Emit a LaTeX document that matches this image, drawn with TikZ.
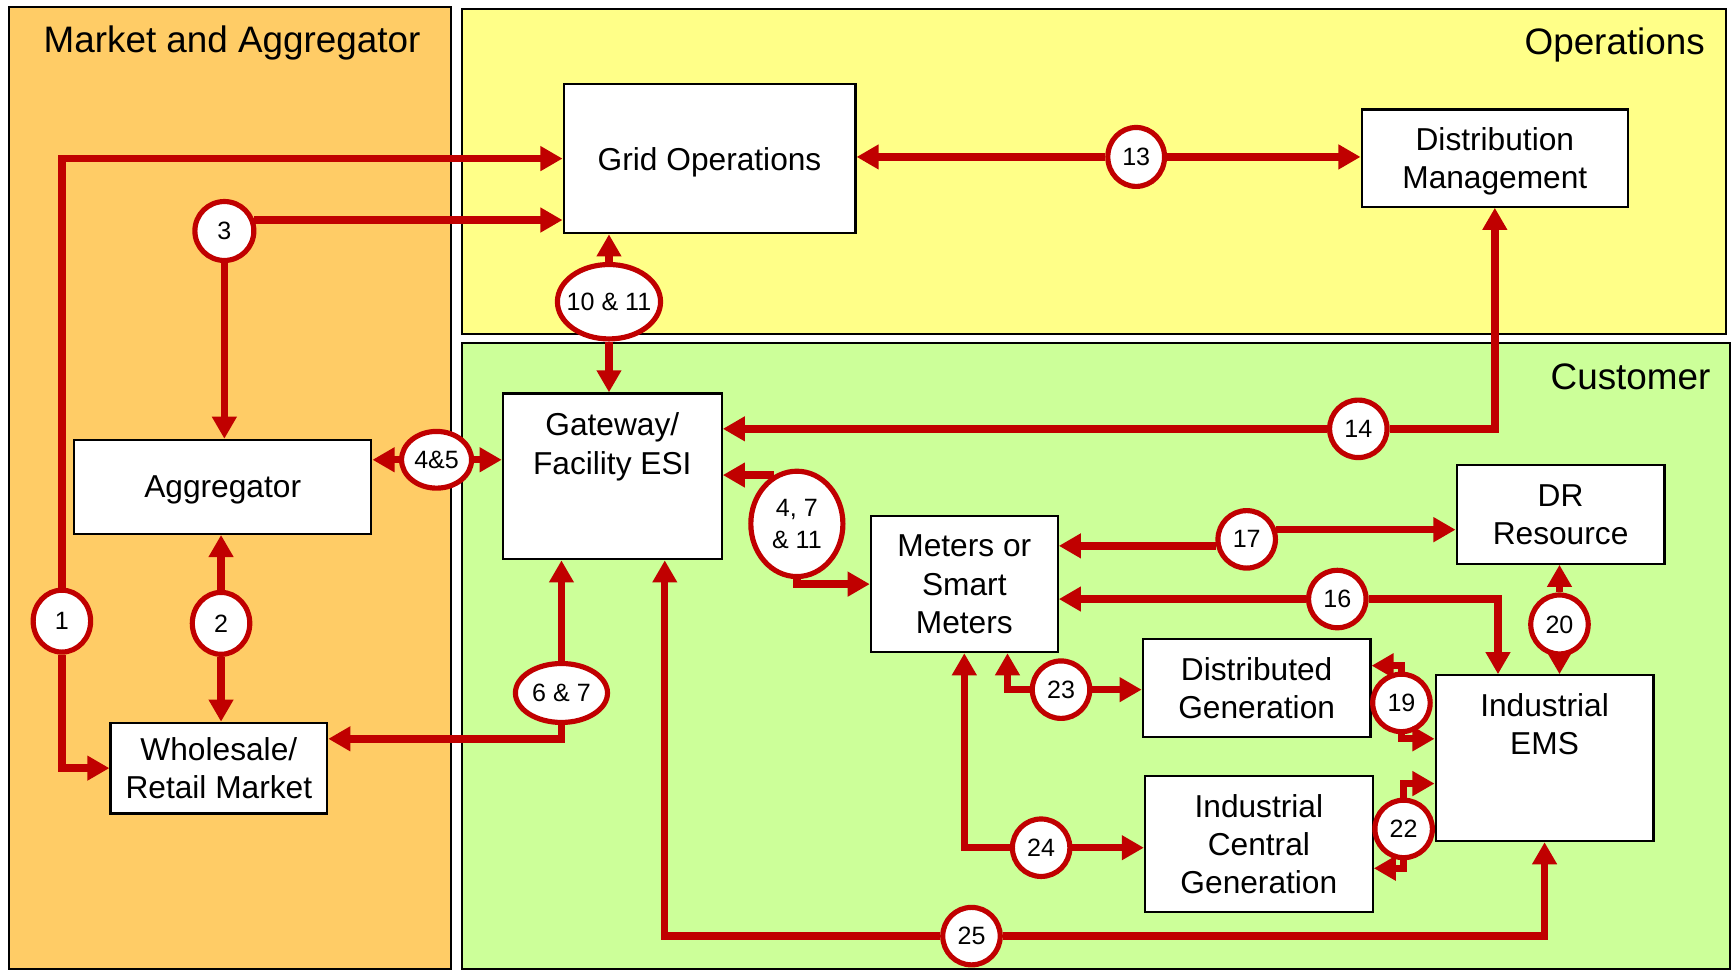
\documentclass[tikz,border=0pt]{standalone}
\usepackage{fontspec}
\setmainfont{Liberation Sans}
\usetikzlibrary{arrows.meta,shapes.geometric}

\definecolor{linkred}{RGB}{192,0,0}
\definecolor{mktorange}{RGB}{255,204,102}
\definecolor{opsyellow}{RGB}{255,255,136}
\definecolor{custgreen}{RGB}{204,255,153}

\tikzset{every picture/.style={line width=0.75pt}}
\tikzset{
  panel/.style={draw=black, line width=1.5pt},
  box/.style={draw=black, fill=white, line width=1.5pt, align=center, inner sep=0pt, text depth=0pt, font=\fontsize{21.5}{26}\selectfont},
  tag/.style={ellipse, draw=linkred, fill=white, line width=3.5pt, inner sep=0pt, align=center, minimum width=39pt, minimum height=39pt, font=\fontsize{17}{21.75}\selectfont},
  link/.style={draw=linkred, line width=5pt, -{Triangle[length=15pt,width=16pt]}},
  paneltitle/.style={inner sep=0pt, font=\fontsize{25}{30}\selectfont}
}

\begin{document}
\begin{tikzpicture}[x=0.75pt,y=0.75pt,yscale=-1,xscale=1]
    \useasboundingbox (0,0) rectangle (1568,878);

    %Shape: Rectangle [market and aggregator]
    \draw [panel, fill=mktorange] (8,6) rectangle (408,877);
    %Shape: Rectangle [operations]
    \draw [panel, fill=opsyellow] (418,8) rectangle (1562,302);
    %Shape: Rectangle [customer]
    \draw [panel, fill=custgreen] (418,310) rectangle (1565,877);

    % Text Node
    \draw (210,39) node [paneltitle] (mkttitle) {Market and Aggregator};
    % Text Node
    \draw (1543,41) node [paneltitle, anchor=east] (opstitle) {Operations};
    % Text Node
    \draw (1548,341) node [paneltitle, anchor=east] (custtitle) {Customer};

    %Shape: Rectangle
    \draw (642,143.5) node [box, minimum width=198pt, minimum height=101.25pt] (gridops) {Grid Operations};
    %Shape: Rectangle
    \draw (1352.5,143) node [box, minimum width=180.75pt, minimum height=66pt] (distmgmt) {Distribution\\Management};
    %Shape: Rectangle
    \draw (201.5,440.5) node [box, minimum width=201.75pt, minimum height=63.75pt] (aggregator) {Aggregator};
    %Shape: Rectangle
    \draw (198,695) node [box, minimum width=147pt, minimum height=61.5pt] (wholesale) {Wholesale/\\Retail Market};
    %Shape: Rectangle
    \draw (554,431) node [box, minimum width=148.5pt, minimum height=112.5pt] (gateway) {Gateway/\\Facility ESI\\\mbox{}\\[-7.5pt]\mbox{}};
    %Shape: Rectangle
    \draw (872.5,528.5) node [box, minimum width=126.75pt, minimum height=92.25pt] (meters) {Meters or\\Smart\\Meters};
    %Shape: Rectangle
    \draw (1412,465.5) node [box, minimum width=141pt, minimum height=66.75pt] (dr) {DR\\Resource};
    %Shape: Rectangle
    \draw (1137,622.5) node [box, minimum width=154.5pt, minimum height=66.75pt] (dg) {Distributed\\Generation};
    %Shape: Rectangle
    \draw (1139,763.5) node [box, minimum width=154.5pt, minimum height=92.25pt] (icg) {Industrial\\Central\\Generation};
    %Shape: Rectangle
    \draw (1397.5,686) node [box, minimum width=147.75pt, minimum height=112.5pt] (iems) {Industrial\\EMS\\\mbox{}\\[-6pt]\mbox{}};

    %Shape: Ellipse
    \draw (56,562) node [tag, minimum height=42pt] (c1) {1};
    \draw (200,564) node [tag, minimum height=42pt] (c2) {2};
    \draw (203,209) node [tag, minimum width=40pt, minimum height=40pt] (c3) {3};
    \draw (395,416) node [tag, minimum width=47.5pt, minimum height=38.5pt] (c45) {4\&5};
    \draw (551,273) node [tag, minimum width=70pt, minimum height=50.5pt, inner xsep=-6pt] (c1011) {10 \& 11};
    \draw (1028,142) node [tag, minimum width=38.5pt, minimum height=40pt] (c13) {13};
    \draw (1229,388) node [tag] (c14) {14};
    \draw (721,474) node [tag, minimum width=62.5pt, minimum height=71.5pt] (c4711) {4, 7\\\& 11};
    \draw (508,627) node [tag, minimum width=62.5pt, minimum height=40pt] (c67) {6 \& 7};
    \draw (1128,488) node [tag] (c17) {17};
    \draw (1210,542) node [tag] (c16) {16};
    \draw (1411,565) node [tag, minimum height=40pt] (c20) {20};
    \draw (960,624) node [tag] (c23) {23};
    \draw (1268,636) node [tag] (c19) {19};
    \draw (942,767) node [tag] (c24) {24};
    \draw (1270,750) node [tag] (c22) {22};
    \draw (879,847) node [tag] (c25) {25};

    %Straight Lines
    \draw [link] (c1.north) |- (gridops.west);
    \draw [link] (c1.south) |- (wholesale.west);
    \draw [link] (c2.north) -- (c2.north |- aggregator.south);
    \draw [link] (c2.south) -- (c2.south |- wholesale.north);
    \draw [link] (c3.20) -- (c3.20 -| gridops.west);
    \draw [link] (c3.south) -- (c3.south |- aggregator.north);
    \draw [link] (c45.west) -- (c45.west -| aggregator.east);
    \draw [link] (c45.east) -- (c45.east -| gateway.west);
    \draw [link] (c1011.north) -- (c1011.north |- gridops.south);
    \draw [link] (c1011.south) -- (c1011.south |- gateway.north);
    \draw [link] (c13.west) -- (c13.west -| gridops.east);
    \draw [link] (c13.east) -- (c13.east -| distmgmt.west);
    \draw [link] (c14.west) -- (c14.west -| gateway.east);
    \draw [link] (c14.east) -| (distmgmt.south);
    \draw [link] (c4711.115) -- (c4711.115 -| gateway.east);
    \draw [link] (c4711.south) |- (meters.west);
    \draw [link] (c67.north) -- (c67.north |- gateway.south);
    \draw [link] (c67.south) |- (wholesale.15);
    \draw [link] (c25.west) -| (gateway.-58);
    \draw [link] (c25.east) -| (iems.south);
    \draw [link] (c17.192) -- (c17.192 -| meters.east);
    \draw [link] (c17.18) -- (c17.18 -| dr.west);
    \draw [link] (c16.west) -- (c16.west -| meters.east);
    \draw [link] (c16.east) -| (iems.119);
    \draw [link] (c20.north) -- (c20.north |- dr.south);
    \draw [link] (c20.south) -- (c20.south |- iems.north);
    \draw [link] (c23.east) -- (c23.east -| dg.west);
    \draw [link] (c23.west) -| (meters.-58);
    \draw [link] (c24.east) -- (c24.east -| icg.west);
    \draw [link] (c24.west) -| (meters.south);
    \draw [link] (c19.north) |- (dg.11);
    \draw [link] (c19.south) |- (iems.170);
    \draw [link] (c22.north) |- (iems.193);
    \draw [link] (c22.south) |- (icg.-12);

\end{tikzpicture}
\end{document}
